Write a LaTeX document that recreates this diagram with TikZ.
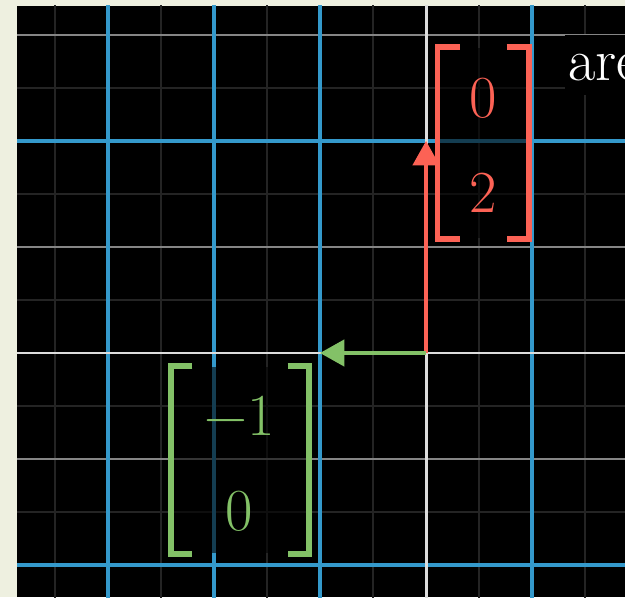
\documentclass[tikz,border=0pt]{standalone}
\usepackage{xcolor,tikz,fontspec}
\usetikzlibrary{arrows.meta}
\definecolor{paper}{HTML}{EEF0E0}
\definecolor{vecred}{HTML}{FC6255}
\definecolor{vecgreen}{HTML}{83C167}
\definecolor{gridblue}{HTML}{3499CB}
\definecolor{gridgray}{HTML}{858585}
\definecolor{griddim}{HTML}{242424}
\definecolor{axiswhite}{HTML}{DDDDDD}
\tikzset{
  vecarrow/.style={line width=0.85pt,-{Triangle[length=0.23cm,width=0.25cm]}},
  matbox/.style={fill=black,fill opacity=0.6,inner sep=0pt},
  bracket/.style={line width=1.5pt},
  entry/.style={anchor=base,font=\fontsize{16}{19}\selectfont}
}

\begin{document}
\begin{tikzpicture}
\useasboundingbox (-4.019,-2.302) rectangle (1.877,3.330);
\fill[paper] (-4.019,-2.302) rectangle (1.877,3.330);
\clip (-3.858,-2.302) rectangle (1.877,3.274);
\fill[black] (-3.858,-2.302) rectangle (1.877,3.274);
\draw[griddim,line width=0.4pt,step=0.5] (-4,-2.5) grid (2,3.5);
\draw[gridgray,line width=0.5pt,step=1] (-4,-3) grid (2,4);
\foreach \x in {-3,-2,-1,1} \draw[gridblue,line width=0.9pt] (\x,-2.5) -- (\x,3.5);
\foreach \y in {-2,2} \draw[gridblue,line width=0.9pt] (-4,\y) -- (2,\y);
\draw[axiswhite,line width=0.8pt] (-4,0) -- (2,0) (0,-2.5) -- (0,3.5);

\coordinate (origin) at (0,0);
\coordinate (ihat) at (-1,0);
\coordinate (jhat) at (0,2);
\draw[vecarrow,vecred] (origin) -- (jhat);
\draw[vecarrow,vecgreen] (origin) -- (ihat);

\node[matbox,minimum width=0.849cm,minimum height=1.792cm] (redmat) at (0.538,1.981) {};
\draw[bracket,vecred] ([xshift=0.21cm]redmat.north west) -| (redmat.south west) -- ++(0.21,0);
\draw[bracket,vecred] ([xshift=-0.21cm]redmat.north east) -| (redmat.south east) -- ++(-0.21,0);
\node[entry,text=vecred] (redtop) at (0.538,2.217) {0};
\node[entry,text=vecred] (redbot) at (0.538,1.330) {2};

\node[matbox,minimum width=1.283cm,minimum height=1.755cm] (greenmat) at (-1.755,-1.009) {};
\draw[bracket,vecgreen] ([xshift=0.2cm]greenmat.north west) -| (greenmat.south west) -- ++(0.2,0);
\draw[bracket,vecgreen] ([xshift=-0.2cm]greenmat.north east) -| (greenmat.south east) -- ++(-0.2,0);
\node[entry,text=vecgreen] (greentop) at (-1.755,-0.774) {−1};
\node[entry,text=vecgreen] (greenbot) at (-1.764,-1.670) {0};

\node[fill=black,anchor=base west,inner sep=1pt,text height=11pt,text depth=3pt,text=white,font=\fontsize{16}{19}\selectfont] (aretext) at (1.30,2.575) {are};
\end{tikzpicture}
\end{document}
